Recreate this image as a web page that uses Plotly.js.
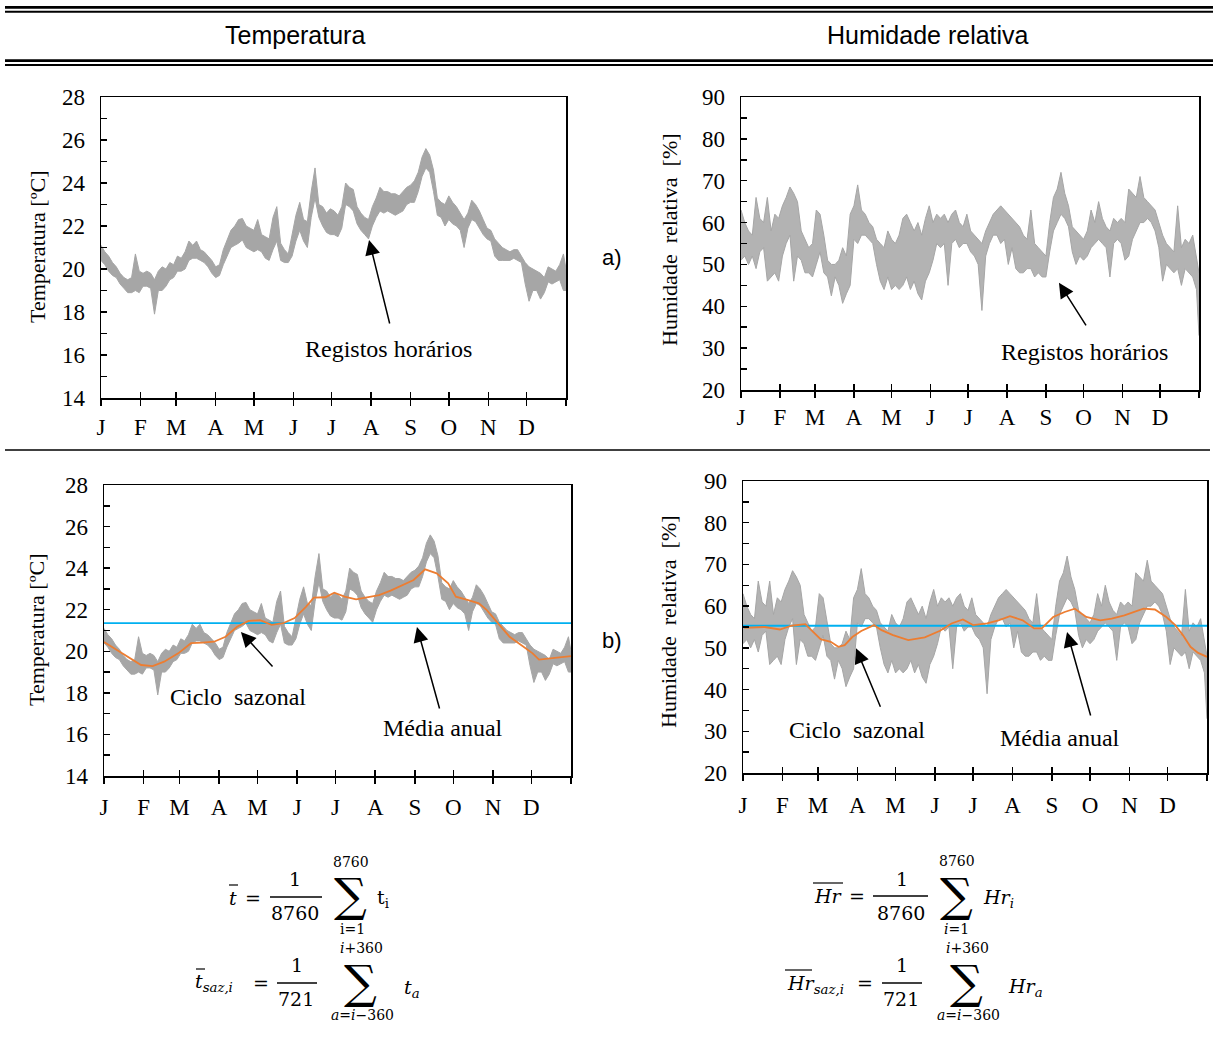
<!DOCTYPE html>
<html>
<head>
<meta charset="utf-8">
<script src="https://cdn.plot.ly/plotly-3.0.1.min.js"></script>
<style>html,body{margin:0;padding:0;background:#fff}</style>
</head>
<body>
<div id="grafico" style="width:1213px;height:1043px"></div>
<script>
// Eixo do tempo: horas do ano, com marcas no início de cada mês
const mesesHoras = [0, 744, 1416, 2160, 2880, 3624, 4344, 5088, 5832, 6552, 7296, 8016, 8760];
const mesesTexto = ['J', 'F', 'M', 'A', 'M', 'J', 'J', 'A', 'S', 'O', 'N', 'D', ''];

// Envolvente dos registos horários (máximo / mínimo), amostrados de 3 em 3 dias
const tempMax = [21.1,20.8,20.6,20.3,20.1,19.8,19.6,19.5,19.6,20.7,19.9,19.8,19.9,19.8,19.5,19.9,20.1,20.0,20.3,20.2,
  20.6,20.5,20.8,21.3,21.1,21.3,20.9,20.8,20.6,20.4,20.1,20.2,20.9,21.4,21.8,22.0,22.3,22.35,22.0,21.9,
  21.8,22.3,21.6,21.5,21.4,22.4,22.9,21.2,20.9,20.7,21.6,22.5,23.1,22.3,22.2,23.6,24.7,23.0,22.9,22.6,
  22.8,22.7,22.5,22.9,24.0,23.8,23.7,22.9,22.6,22.4,22.3,22.9,23.3,23.8,23.6,23.6,23.5,23.5,23.4,23.6,
  23.8,23.9,24.1,24.5,25.2,25.6,25.3,24.6,23.3,23.1,23.0,23.4,23.1,22.9,22.6,22.3,22.6,23.2,23.0,22.7,
  22.3,21.9,21.8,21.4,21.2,21.0,20.9,20.8,20.9,20.9,20.6,20.3,20.1,20.0,19.9,19.8,19.6,20.1,20.0,19.9,
  20.2,20.7,20.0];
const tempMin = [20.4,20.2,19.9,19.7,19.6,19.3,19.1,18.9,18.9,19.0,18.9,19.2,19.2,19.1,17.9,19.0,19.0,19.2,19.5,19.6,
  19.9,19.9,20.0,20.4,20.5,20.5,20.4,20.3,20.1,19.8,19.6,19.7,20.2,20.6,21.0,21.1,21.2,21.35,21.0,20.9,
  20.8,20.9,20.8,20.5,20.4,20.9,21.3,20.4,20.3,20.3,20.6,21.3,21.8,21.3,21.0,22.4,23.3,22.4,22.0,21.7,
  21.6,21.6,21.5,21.9,23.0,22.9,22.7,22.1,21.8,21.6,21.4,22.0,22.4,22.7,22.6,22.7,22.6,22.5,22.6,22.7,
  23.0,23.1,23.1,23.6,24.3,24.7,24.5,23.6,22.5,22.4,22.0,22.3,22.1,22.0,21.8,21.0,21.9,22.3,22.2,21.9,
  21.6,21.4,21.3,20.6,20.4,20.4,20.4,20.4,20.5,20.4,20.3,19.3,18.5,19.0,19.0,18.6,18.9,19.4,19.3,19.4,
  19.5,19.0,19.0];
const humMax = [63,60,58,57,66,61,60,66,58,62,61,64,66,68.5,67,65,58,56,54,55,
  63,62,57,51,50,50,51,54,52,62,64,69,63,62,60,59,56,55,54,58,
  56,55,57,61,62,60,58,60,57,61,64,60,62,61,62,60,62,63,60,59,
  62,58,57,56,55,58,60,62,63,64,63,62,61,60,59,57,56,63,55,54,
  53,52,60,66,68,72,67,64,59,58,57,56,58,63,60,65,61,59,58,61,
  60,61,60,68,67,66,71,66,65,64,63,60,57,55,54,53,64,54,56,55,
  57,52,48];
const humMin = [51,52,50,52,49,53,54,46,47,48,46,52,55,57,46,52,51,48,48,47,
  50,53,48,47,42.5,47,45,40.7,43,45,56,55,57,57,56,55,50,46,44,47,
  44,45,44,45,47,44,46,43,41.5,46,48,51,55,54,55,45,55,56,54,55,
  55,53,52,50,39,52,55,57,57,55,56,50,54,49,48,48,49,49,47,48,
  47,47,53,58,60,62,61,59,53,50,52,51,52,54,55,56,55,54,47,55,
  56,55,51,52,56,58,60,60,61,60,58,54,46,50,49,48,49,45,49,48,
  47,44,33];

// Ciclo sazonal (média móvel de 721 horas)
const tempSazDias = [0,17,29,38,47,58,68,77,86,95,104,113,122,131,140,149,158,164,173,180,
  188,197,206,215,224,233,242,251,260,269,275,284,293,299,308,317,326,335,340,349,358,365];
const tempSaz = [20.45,19.82,19.34,19.29,19.5,19.9,20.39,20.42,20.46,20.7,21.18,21.46,21.5,21.27,21.35,21.6,22.15,22.58,22.6,22.82,
  22.63,22.5,22.6,22.7,22.92,23.19,23.43,23.94,23.75,23.27,22.63,22.47,22.31,21.99,21.35,20.7,20.3,19.9,19.6,19.66,19.71,19.77];
const humSazDias = [1,17,29,38,49,55,61,69,75,80,86,93,103,109,118,130,143,155,164,173,
  181,192,201,210,220,229,235,244,253,261,270,281,290,300,307,315,324,333,340,346,352,358,365];
const humSaz = [54.8,55.0,54.4,55.3,55.7,53.8,52.1,51.45,50.25,50.65,52.6,54.05,55.45,54.25,53.05,51.85,52.5,54.1,55.85,56.8,
  55.45,55.85,56.6,57.6,56.6,54.65,54.65,57.4,58.6,59.4,57.4,56.6,57.0,57.8,58.6,59.4,59.2,57.4,55.45,53.05,50.25,48.8,47.85];

// Médias anuais
const tempMedia = 21.35;
const humMedia = 55.3;

// ---------------------------------------------------------------
const W = 1213, H = 1043;
const px = x => x / W;
const py = y => 1 - y / H;

const horasAmostra = tempMax.map((_, i) => Math.min(i * 3, 365) * 24);

const cinza = '#a6a6a6', laranja = '#ED7D31', azul = '#00B0F0';
const serif = 'Liberation Serif';
const arial = 'Liberation Sans';

// Faixa cinzenta dos registos horários: área entre o mínimo e o máximo
function registos(maxArr, minArr, xa, ya, preench) {
  return [
    {x: horasAmostra, y: minArr, xaxis: xa, yaxis: ya, type: 'scatter', mode: 'lines',
      line: {color: cinza, width: 1}, showlegend: false},
    {x: horasAmostra, y: maxArr, xaxis: xa, yaxis: ya, type: 'scatter', mode: 'lines',
      fill: 'tonexty', fillcolor: preench, line: {color: cinza, width: 1}, showlegend: false}
  ];
}
function linhaSaz(dias, vals, xa, ya) {
  return {x: dias.map(d => d * 24), y: vals, xaxis: xa, yaxis: ya, type: 'scatter', mode: 'lines',
    line: {color: laranja, width: 1.8}, showlegend: false};
}
function linhaMedia(v, xa, ya) {
  return {x: [0, 8760], y: [v, v], xaxis: xa, yaxis: ya, type: 'scatter', mode: 'lines',
    line: {color: azul, width: 1.8}, showlegend: false};
}
function vazio(xa, ya) {
  return {x: [], y: [], xaxis: xa, yaxis: ya, type: 'scatter', mode: 'lines', showlegend: false};
}

const fT = cinza, fH = 'rgba(166,166,166,0.85)';
const data = [].concat(
  registos(tempMax, tempMin, 'x', 'y', fT),
  registos(humMax, humMin, 'x2', 'y2', fH),
  registos(tempMax, tempMin, 'x3', 'y3', fT),
  [linhaMedia(tempMedia, 'x3', 'y3'), linhaSaz(tempSazDias, tempSaz, 'x3', 'y3')],
  registos(humMax, humMin, 'x4', 'y4', fH),
  [linhaMedia(humMedia, 'x4', 'y4'), linhaSaz(humSazDias, humSaz, 'x4', 'y4')],
  [vazio('x5', 'y'), vazio('x6', 'y2'), vazio('x7', 'y3'), vazio('x8', 'y4')]
);

const caixas = [
  {x0: 101, x1: 566, y0: 97, y1: 398, r: [14, 28], d: 2, m: 1, sd: 2},
  {x0: 741, x1: 1199, y0: 97, y1: 390, r: [20, 90], d: 10, m: 5, sd: 0},
  {x0: 104, x1: 571, y0: 485, y1: 776, r: [14, 28], d: 2, m: 1, sd: 4},
  {x0: 743, x1: 1207, y0: 481, y1: 773, r: [20, 90], d: 10, m: 5, sd: 5}
];

const layout = {
  width: W, height: H,
  margin: {l: 0, r: 0, t: 0, b: 0},
  paper_bgcolor: '#fff', plot_bgcolor: 'rgba(0,0,0,0)',
  showlegend: false,
  annotations: [], shapes: []
};

caixas.forEach((c, i) => {
  const n = i + 1;
  const sx = n === 1 ? '' : n;
  layout['xaxis' + sx] = {
    domain: [px(c.x0), px(c.x1)], anchor: 'y' + sx, range: [0, 8760],
    tickmode: 'array', tickvals: mesesHoras, ticktext: mesesTexto,
    ticks: 'outside', ticklen: 6, tickwidth: 1.5, tickcolor: '#000',
    showline: true, linecolor: '#000', linewidth: 1.5, mirror: true,
    showgrid: false, zeroline: false, ticklabelstandoff: c.sd,
    tickfont: {family: serif, size: 23, color: '#000'}
  };
  layout['xaxis' + (n + 4)] = {
    overlaying: 'x' + sx, anchor: 'y' + sx, range: [0, 8760],
    tickmode: 'array', tickvals: mesesHoras,
    ticks: 'inside', ticklen: 6, tickwidth: 1.5, tickcolor: '#000',
    showticklabels: false, showline: false, showgrid: false, zeroline: false
  };
  layout['yaxis' + sx] = {
    domain: [py(c.y1), py(c.y0)], anchor: 'x' + sx, range: c.r,
    tickmode: 'linear', tick0: c.r[0], dtick: c.d,
    ticks: 'inside', ticklen: 6, tickwidth: 1.5, tickcolor: '#000',
    minor: {dtick: c.m, tick0: c.r[0], ticks: 'inside', ticklen: 6, tickwidth: 1.5, tickcolor: '#000'},
    showline: true, linecolor: '#000', linewidth: 1.5, mirror: true,
    showgrid: false, zeroline: false, ticklabelstandoff: 10,
    tickfont: {family: serif, size: 23, color: '#000'}
  };
});

const A = layout.annotations, S = layout.shapes;

// Texto em coordenadas de papel (pixels da página)
function txt(t, x, y, o = {}) {
  A.push(Object.assign({text: t, x: px(x), y: py(y), xref: 'paper', yref: 'paper',
    showarrow: false, xanchor: 'center', yanchor: 'middle',
    font: {family: serif, size: 23, color: '#000'}}, o));
}
function linha(x0, y0, x1, y1, w) {
  S.push({type: 'line', xref: 'paper', yref: 'paper', x0: px(x0), x1: px(x1), y0: py(y0), y1: py(y1),
    line: {color: '#000', width: w}});
}

// Cabeçalho em forma de tabela
linha(5, 7.3, 1213, 7.3, 2.7);
linha(5, 11.7, 1213, 11.7, 2);
linha(5, 60.6, 1213, 60.6, 2.7);
linha(5, 65, 1213, 65, 2);
linha(5, 450, 1210, 450, 1.5);
txt('Temperatura', 295, 35, {font: {family: arial, size: 25, color: '#000'}});
txt('Humidade relativa', 928, 35, {font: {family: arial, size: 25, color: '#000'}});
txt('a)', 612, 258, {font: {family: arial, size: 22, color: '#000'}});
txt('b)', 612, 640, {font: {family: arial, size: 22, color: '#000'}});

// Títulos dos eixos verticais
const tT = 'Temperatura [ºC]';
const tH = 'Humidade\u00a0 relativa\u00a0 [%]';
const fTit = {family: serif, size: 22, color: '#000'};
txt(tT, 37, 247, {textangle: -90, font: fTit});
txt(tH, 669, 240, {textangle: -90, font: fTit});
txt(tT, 36, 630, {textangle: -90, font: fTit});
txt(tH, 668, 622, {textangle: -90, font: fTit});

// Legendas dentro dos gráficos, com setas
function rotulo(t, xa, ya, hx, vy) {
  A.push({text: t, x: hx, y: vy, xref: xa, yref: ya, showarrow: false,
    font: {family: serif, size: 24, color: '#000'}});
}
function seta(xa, ya, hx, vy, ax, ay) {
  A.push({text: '', x: hx, y: vy, xref: xa, yref: ya, showarrow: true,
    ax: ax, ay: ay, arrowhead: 2, arrowsize: 2, arrowwidth: 1.5, arrowcolor: '#000'});
}
rotulo('Registos horários', 'x', 'y', 5407, 16.28);
seta('x', 'y', 210.4 * 24, 21.35, 21, 85);
rotulo('Registos horários', 'x2', 'y2', 6561, 29.1);
seta('x2', 'y2', 253.4 * 24, 45.6, 28, 44);
rotulo('Ciclo\u00a0 sazonal', 'x3', 'y3', 2513, 17.8);
seta('x3', 'y3', 107 * 24, 20.93, 33, 36);
rotulo('Média anual', 'x3', 'y3', 6359, 16.31);
seta('x3', 'y3', 244.6 * 24, 21.17, 23, 83);
rotulo('Ciclo\u00a0 sazonal', 'x4', 'y4', 2153, 30.3);
seta('x4', 'y4', 88.9 * 24, 49.9, 25, 60);
rotulo('Média anual', 'x4', 'y4', 5986, 28.4);
seta('x4', 'y4', 254.9 * 24, 53.8, 24, 85);

// Fórmulas das médias
const fm = 'DejaVu Serif';
const F = s => ({family: fm, size: s, color: '#000'});
// média anual da temperatura
txt('<i>t</i>', 233, 898, {font: F(19)});
linha(229, 885, 238, 885, 1.2);
txt('=', 253, 898, {font: F(19)});
txt('1', 295, 879, {font: F(19)});
linha(270, 897, 322, 897, 1.5);
txt('8760', 295, 913, {font: F(19)});
txt('∑', 350, 895, {font: F(46)});
txt('8760', 351, 862, {font: F(14)});
txt('i=1', 352, 929, {font: F(14)});
txt('t<sub>i</sub>', 383, 898, {font: F(19)});
// ciclo sazonal da temperatura
txt('<i>t</i><sub><i>saz,i</i></sub>', 193, 982, {xanchor: 'left', font: F(19)});
linha(196, 969, 205, 969, 1.2);
txt('=', 261, 983, {font: F(19)});
txt('1', 297, 965, {font: F(19)});
linha(277, 983, 317, 983, 1.5);
txt('721', 296, 999, {font: F(19)});
txt('∑', 360, 982, {font: F(46)});
txt('<i>i</i>+360', 361, 948, {font: F(14)});
txt('<i>a</i>=<i>i</i>−360', 362, 1015, {font: F(14)});
txt('<i>t<sub>a</sub></i>', 412, 988, {font: F(19)});
// média anual da humidade
txt('<i>Hr</i>', 828, 896, {font: F(19)});
linha(813, 883, 843, 883, 1.2);
txt('=', 857, 896, {font: F(19)});
txt('1', 902, 879, {font: F(19)});
linha(873, 896, 928, 896, 1.5);
txt('8760', 901, 913, {font: F(19)});
txt('∑', 956, 895, {font: F(46)});
txt('8760', 957, 861, {font: F(14)});
txt('<i>i</i>=1', 956, 929, {font: F(14)});
txt('<i>Hr<sub>i</sub></i>', 998, 898, {font: F(19)});
// ciclo sazonal da humidade
txt('<i>Hr</i><sub><i>saz,i</i></sub>', 785, 984, {xanchor: 'left', font: F(19)});
linha(785, 970, 812, 970, 1.2);
txt('=', 865, 983, {font: F(19)});
txt('1', 902, 965, {font: F(19)});
linha(882, 983, 922, 983, 1.5);
txt('721', 901, 999, {font: F(19)});
txt('∑', 966, 982, {font: F(46)});
txt('<i>i</i>+360', 967, 948, {font: F(14)});
txt('<i>a</i>=<i>i</i>−360', 968, 1015, {font: F(14)});
txt('<i>Hr<sub>a</sub></i>', 1025, 987, {font: F(19)});

Plotly.newPlot('grafico', data, layout, {staticPlot: true, displayModeBar: false});
</script>
</body>
</html>
